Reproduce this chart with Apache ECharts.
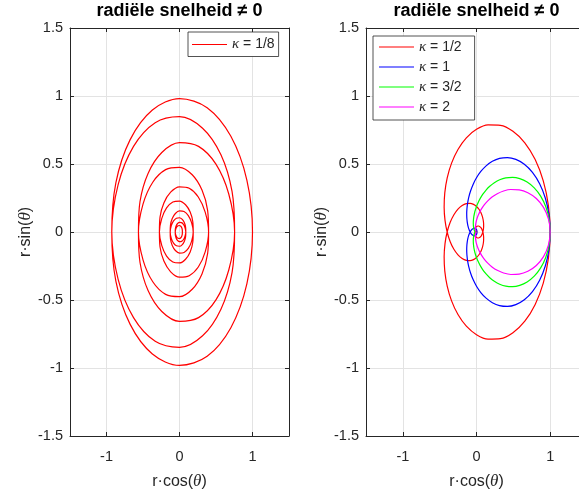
<!DOCTYPE html>
<html>
<head>
<meta charset="utf-8">
<script src="https://cdn.jsdelivr.net/npm/echarts@6/dist/echarts.min.js"></script>
<style>html,body{margin:0;padding:0;background:#fff;}#c{width:579px;height:496px;}</style>
</head>
<body>
<div id="c"></div>
<script>
// ---- data: radius r at equally spaced polar angles (theta >= 0; curve is mirror-symmetric in theta) ----
const titleText = 'radiële snelheid ≠ 0';
const xTicks = [-1, 0, 1];
const yTicks = [-1.5, -1, -0.5, 0, 0.5, 1, 1.5];

// left panel, kappa = 1/8, angle step 22.5 deg
const stepK18 = 22.5;
const rK18 = [1.0000,0.9988,0.9952,0.9893,0.9810,0.9706,0.9581,0.9437,0.9276,0.9098,0.8905,0.8701,0.8485,0.8260,0.8028,0.7791,
  0.7549,0.7305,0.7060,0.6815,0.6571,0.6329,0.6090,0.5855,0.5624,0.5399,0.5178,0.4964,0.4755,0.4553,0.4357,0.4168,
  0.3985,0.3809,0.3640,0.3476,0.3320,0.3169,0.3024,0.2886,0.2753,0.2626,0.2504,0.2388,0.2277,0.2170,0.2069,0.1971,
  0.1879,0.1790,0.1706,0.1625,0.1548,0.1475,0.1405,0.1338,0.1275,0.1214,0.1156,0.1101,0.1049,0.0999,0.0951,0.0906,
  0.0863,0.0821,0.0782,0.0745,0.0709,0.0675,0.0643,0.0612,0.0583,0.0555,0.0529,0.0503,0.0479,0.0456,0.0435,0.0414,0.0394];

// right panel, kappa = 1/2, angle step 11.25 deg
const stepK12 = 11.25;
const rK12 = [1.0000,0.9952,0.9810,0.9581,0.9276,0.8905,0.8485,0.8028,0.7549,0.7060,0.6571,0.6090,0.5624,0.5178,0.4755,0.4357,
  0.3985,0.3640,0.3320,0.3024,0.2753,0.2504,0.2277,0.2069,0.1879,0.1706,0.1548,0.1405,0.1275,0.1156,0.1049,0.0951,
  0.0863,0.0782,0.0709,0.0643,0.0583,0.0529,0.0479,0.0435,0.0394,0.0357,0.0324,0.0294,0.0266,0.0241,0.0219,0.0198,
  0.0180,0.0163,0.0148,0.0134,0.0121,0.0110,0.0100,0.0090,0.0082,0.0074,0.0067,0.0061,0.0055,0.0050,0.0045,0.0041,0.0037];

// right panel, kappa = 1, angle step 7.5 deg
const stepK1 = 7.5;
const rK1 = [1.0000,0.9915,0.9667,0.9276,0.8770,0.8184,0.7549,0.6897,0.6249,0.5624,0.5035,0.4487,0.3985,0.3530,0.3120,0.2753,
  0.2426,0.2136,0.1879,0.1652,0.1451,0.1275,0.1119,0.0983,0.0863,0.0757,0.0664,0.0583,0.0512,0.0449,0.0394,0.0346,
  0.0303,0.0266,0.0233,0.0205,0.0180,0.0158,0.0138,0.0121,0.0106,0.0093,0.0082,0.0072,0.0063,0.0055,0.0049,0.0043,0.0037];

// right panel, kappa = 3/2, angle step 5.625 deg
const stepK32 = 5.625;
const rK32 = [1.0000,0.9893,0.9581,0.9098,0.8485,0.7791,0.7060,0.6329,0.5624,0.4964,0.4357,0.3809,0.3320,0.2886,0.2504,0.2170,
  0.1879,0.1625,0.1405,0.1214,0.1049,0.0906,0.0782,0.0675,0.0583,0.0503,0.0435,0.0375,0.0324,0.0279,0.0241,0.0208,
  0.0180,0.0155,0.0134,0.0116,0.0100,0.0086,0.0074,0.0064,0.0055];

// right panel, kappa = 2, angle step 5.625 deg
const stepK2 = 5.625;
const rK2 = [1.0000,0.9810,0.9276,0.8485,0.7549,0.6571,0.5624,0.4755,0.3985,0.3320,0.2753,0.2277,0.1879,0.1548,0.1275,0.1049,
  0.0863,0.0709,0.0583,0.0479,0.0394,0.0324,0.0266,0.0219,0.0180,0.0148,0.0121,0.0100,0.0082,0.0067,0.0055,0.0045,0.0037];

// ---- polar (r, theta) -> cartesian (r·cos, r·sin), both signs of theta ----
function toXY(r, stepDeg) {
  const pts = [];
  for (let k = r.length - 1; k >= 1; k--) {
    const t = -k * stepDeg * Math.PI / 180;
    pts.push([r[k] * Math.cos(t), r[k] * Math.sin(t)]);
  }
  for (let k = 0; k < r.length; k++) {
    const t = k * stepDeg * Math.PI / 180;
    pts.push([r[k] * Math.cos(t), r[k] * Math.sin(t)]);
  }
  return pts;
}

const FONT = 'Liberation Sans, Arial, Helvetica, sans-serif';
const AX = '#262626';
const GRIDC = '#e3e3e3';
const nameRich = {
  n: { fontSize: 16, fontFamily: FONT, color: AX },
  t: { fontSize: 17, fontFamily: 'Liberation Serif, serif', fontStyle: 'italic', color: AX }
};

function xAxis(gi, pos) {
  const bottom = pos === 'bottom';
  return {
    type: 'value', gridIndex: gi, position: pos, min: -1.5, max: 1.5,
    name: bottom ? '{n|r·cos(}{t|θ}{n|)}' : '',
    nameLocation: 'middle', nameGap: 37,
    nameTextStyle: { rich: nameRich },
    axisLine: { show: true, onZero: false, lineStyle: { color: AX, width: 1 } },
    axisTick: { show: true, inside: true, length: 4, customValues: xTicks, lineStyle: { color: AX, width: 1 } },
    axisLabel: { show: bottom, customValues: xTicks, color: AX, fontSize: 14.5, fontFamily: FONT, margin: 13 },
    splitLine: { show: bottom, lineStyle: { color: GRIDC, width: 1 } }
  };
}
function yAxis(gi, pos) {
  const left = pos === 'left';
  return {
    type: 'value', gridIndex: gi, position: pos, min: -1.5, max: 1.5, interval: 0.5,
    name: left ? '{n|r·sin(}{t|θ}{n|)}' : '',
    nameLocation: 'middle', nameGap: 34,
    nameTextStyle: { rich: nameRich },
    axisLine: { show: true, onZero: false, lineStyle: { color: AX, width: 1 } },
    axisTick: { show: true, inside: true, length: 4, customValues: yTicks, lineStyle: { color: AX, width: 1 } },
    axisLabel: { show: left, customValues: yTicks, color: AX, fontSize: 14.5, fontFamily: FONT, margin: 7 },
    splitLine: { show: left, lineStyle: { color: GRIDC, width: 1 } }
  };
}

const legendText = {
  fontSize: 14, fontFamily: FONT, color: AX,
  rich: { k: { fontSize: 15, fontFamily: 'Liberation Serif, serif', fontStyle: 'italic', color: AX } }
};
const legendFmt = name => name.replace('κ', '{k|κ}');

function series(name, r, step, color, xi, yi) {
  return {
    type: 'line', name: name, xAxisIndex: xi, yAxisIndex: yi,
    data: toXY(r, step), showSymbol: false, symbol: 'none', smooth: 0.33,
    lineStyle: { color: color, width: 1.2 }, itemStyle: { color: color },
    clip: true, z: 3
  };
}

const chart = echarts.init(document.getElementById('c'), null, { renderer: 'canvas' });
chart.setOption({
  animation: false,
  backgroundColor: '#fff',
  grid: [
    { left: 70, top: 28, width: 219, height: 408, outerBoundsMode: 'none', containLabel: false },
    { left: 366, top: 28, width: 221, height: 408, outerBoundsMode: 'none', containLabel: false }
  ],
  xAxis: [xAxis(0, 'bottom'), xAxis(0, 'top'), xAxis(1, 'bottom'), xAxis(1, 'top')],
  yAxis: [yAxis(0, 'left'), yAxis(0, 'right'), yAxis(1, 'left'), yAxis(1, 'right')],
  legend: [
    {
      data: ['κ = 1/8'], left: 188, top: 32, orient: 'vertical',
      icon: 'rect', itemWidth: 35, itemHeight: 1.2, padding: [5, 4, 4.5, 4],
      borderColor: AX, borderWidth: 0.8, backgroundColor: '#fff',
      textStyle: legendText, formatter: legendFmt, selectedMode: false
    },
    {
      data: ['κ = 1/2', 'κ = 1', 'κ = 3/2', 'κ = 2'], left: 373, top: 36, orient: 'vertical',
      icon: 'rect', itemWidth: 35, itemHeight: 1.2, itemGap: 5, padding: [3.5, 13, 5.5, 6],
      borderColor: AX, borderWidth: 0.8, backgroundColor: '#fff',
      textStyle: legendText, formatter: legendFmt, selectedMode: false
    }
  ],
  graphic: [
    { type: 'text', x: 179.5, y: 11.5, style: { text: titleText, align: 'center', verticalAlign: 'middle', font: 'bold 18px ' + FONT, fill: '#000' } },
    { type: 'text', x: 476.5, y: 11.5, style: { text: titleText, align: 'center', verticalAlign: 'middle', font: 'bold 18px ' + FONT, fill: '#000' } }
  ],
  series: [
    series('κ = 1/8', rK18, stepK18, '#ff0000', 0, 0),
    series('κ = 1/2', rK12, stepK12, '#ff0000', 2, 2),
    series('κ = 1', rK1, stepK1, '#0000ff', 2, 2),
    series('κ = 3/2', rK32, stepK32, '#00ff00', 2, 2),
    series('κ = 2', rK2, stepK2, '#ff00ff', 2, 2)
  ]
});
</script>
</body>
</html>
